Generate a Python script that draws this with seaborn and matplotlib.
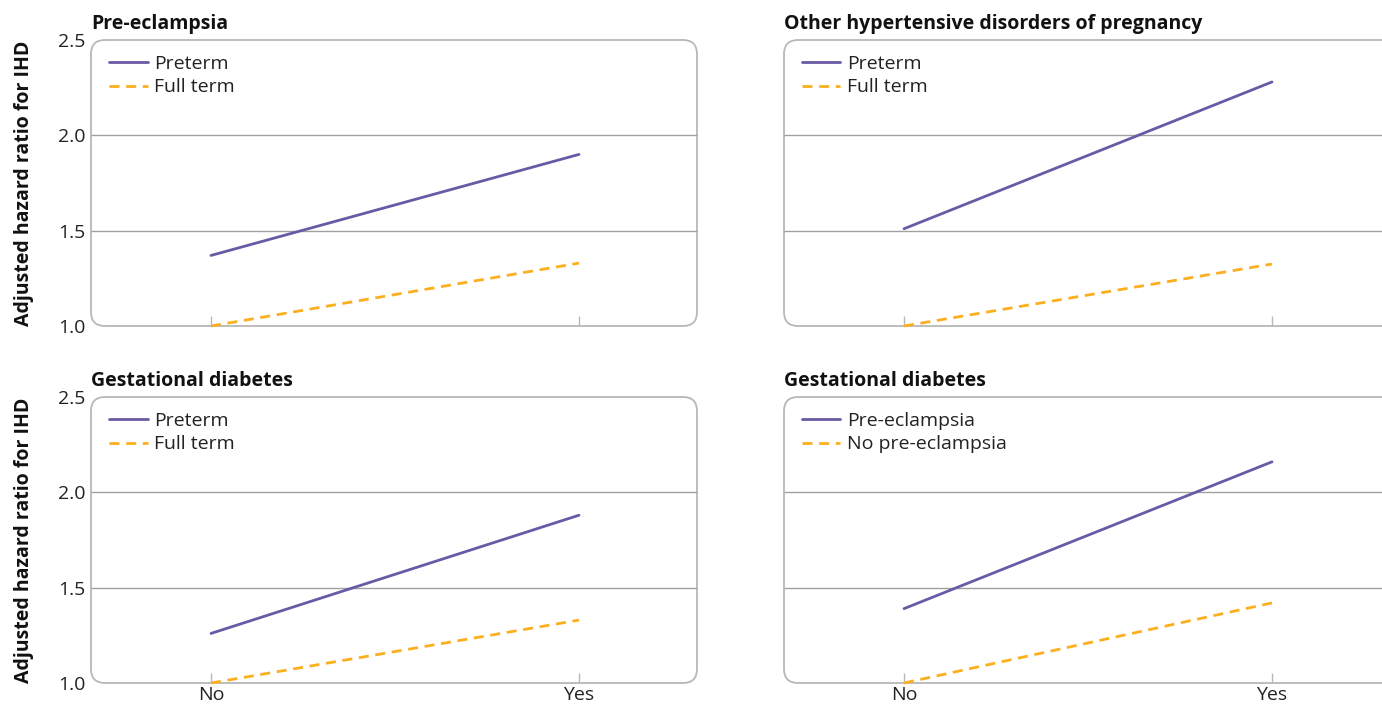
import matplotlib
matplotlib.use("Agg")
import matplotlib.pyplot as plt
from matplotlib.patches import FancyBboxPatch, PathPatch
from matplotlib.path import Path
import seaborn as sns
import pandas as pd

sns.set_style("white")
plt.rcParams['font.family'] = ['Open Sans', 'DejaVu Sans']

categories = ["No", "Yes"]
titles = ["Pre-eclampsia", "Other hypertensive disorders of pregnancy",
          "Gestational diabetes", "Gestational diabetes"]
series1_names = ["Preterm", "Preterm", "Preterm", "Pre-eclampsia"]
series2_names = ["Full term", "Full term", "Full term", "No pre-eclampsia"]
series1_values = [[1.37, 1.90], [1.51, 2.28], [1.26, 1.88], [1.39, 2.16]]
series2_values = [[1.00, 1.33], [1.00, 1.325], [1.00, 1.33], [1.00, 1.42]]
y_ticks = [1.0, 1.5, 2.0, 2.5]
y_label = "Adjusted hazard ratio for IHD"

PURPLE = "#6a5aa6"
ORANGE = "#fcaf1e"
FRAME = "#b8b8b8"
GRID = "#a0a0a0"

W, H = 1382, 705
fig = plt.figure(figsize=(W / 100, H / 100), dpi=100)

ax_h = 286
widths = [606, 598]
lefts = [91, 784]
tops = [40, 397]
px_per_unit = 368
x_left = -120 / px_per_unit

FS = 14

for i in range(4):
    r, c = divmod(i, 2)
    left = lefts[c]
    top = tops[r]
    ax_w = widths[c]
    ax = fig.add_axes([left / W, 1 - (top + ax_h) / H, ax_w / W, ax_h / H])
    df1 = pd.DataFrame({"x": categories, "y": series1_values[i]})
    df2 = pd.DataFrame({"x": categories, "y": series2_values[i]})
    sns.lineplot(data=df1, x="x", y="y", ax=ax, color=PURPLE, lw=2.0,
                 label=series1_names[i], clip_on=False, zorder=5)
    sns.lineplot(data=df2, x="x", y="y", ax=ax, color=ORANGE, lw=2.0,
                 linestyle=(0, (3.6, 2.4)), label=series2_names[i],
                 clip_on=False, zorder=5)
    ax.set_xlim(x_left, x_left + ax_w / px_per_unit)
    ax.set_ylim(1.0, 2.5)
    for s in ax.spines.values():
        s.set_visible(False)
    ax.patch.set_visible(False)
    rx, ry = 14 / ax_w, 14 / ax_h
    if c == 0:
        frame = FancyBboxPatch((0, 0), 1, 1,
                               boxstyle=f"round,pad=0,rounding_size={rx}",
                               mutation_aspect=ax_w / ax_h, transform=ax.transAxes,
                               facecolor="none", edgecolor=FRAME, lw=1.3,
                               clip_on=False, zorder=1)
        gx1 = 1.0
    else:
        # panel runs up to the right edge of the figure: open frame
        xr = (W - left) / ax_w
        verts = [(xr, 1), (rx, 1), (0, 1), (0, 1 - ry), (0, ry), (0, 0), (rx, 0), (xr, 0)]
        codes = [Path.MOVETO, Path.LINETO, Path.CURVE3, Path.CURVE3,
                 Path.LINETO, Path.CURVE3, Path.CURVE3, Path.LINETO]
        frame = PathPatch(Path(verts, codes), transform=ax.transAxes, fill=False,
                          edgecolor=FRAME, lw=1.3, clip_on=False, zorder=1,
                          capstyle="butt")
        gx1 = xr
    ax.add_patch(frame)
    for gy in [1.5, 2.0]:
        ax.plot([0, gx1], [gy, gy], transform=ax.get_yaxis_transform(),
                color=GRID, lw=1.0, zorder=2, clip_on=False,
                solid_capstyle="butt")
    ax.set_yticks(y_ticks)
    ax.set_xticks([0, 1])
    ax.set_xticklabels(categories)
    ax.tick_params(axis="x", direction="in", length=7, width=1.0, color=FRAME,
                   labelsize=FS, labelcolor="#222222", pad=2, bottom=True)
    ax.tick_params(axis="y", left=False, length=0, labelsize=FS,
                   labelcolor="#222222", pad=4)
    ax.set_yticklabels([f"{v:.1f}" for v in y_ticks])
    if r == 0:
        ax.tick_params(axis="x", labelbottom=False)
    if c == 1:
        ax.tick_params(axis="y", labelleft=False)
        ax.set_ylabel("")
    else:
        ax.set_ylabel(y_label, fontsize=FS, fontweight="bold", color="#111111", labelpad=17)
    ax.set_xlabel("")
    ax.set_title(titles[i], loc="left", fontsize=FS, fontweight="bold",
                 color="#111111", pad=8)
    leg = ax.legend(loc="upper left", frameon=False, fontsize=FS,
                    handlelength=2.0, handletextpad=0.35, labelspacing=0.3,
                    borderaxespad=0.35, bbox_to_anchor=(0.005, 1.0))
    for t in leg.get_texts():
        t.set_color("#222222")

fig.savefig("out.png", dpi=100)
